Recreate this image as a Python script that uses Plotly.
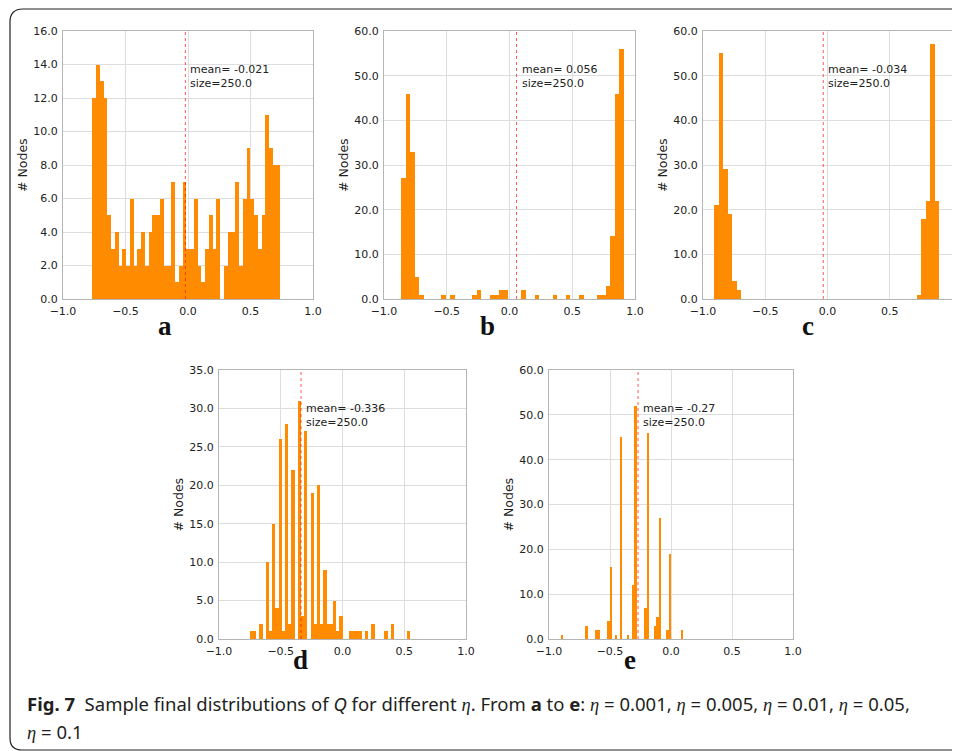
import plotly.graph_objects as go

# ---------------- data ----------------
N_BINS = 50
panel_labels = ["a", "b", "c", "d", "e"]

a_range = [-0.766, 0.739]
a_counts = [12, 14, 13, 12, 5, 3, 4, 2, 3, 2, 6, 2, 3, 4, 2, 4, 5, 5, 6, 2,
            2, 7, 1, 2, 7, 3, 3, 6, 2, 1, 3, 5, 3, 6, 0, 2, 4, 4, 7, 2,
            6, 9, 6, 5, 3, 5, 11, 9, 8, 8]
a_mean = -0.021

b_range = [-0.862, 0.910]
b_counts = [27, 46, 33, 5, 1, 0, 0, 0, 0, 1, 0, 1, 0, 0, 0, 0, 1, 2, 0, 0,
            1, 1, 2, 2, 0, 0, 0, 2, 0, 0, 1, 0, 0, 0, 1, 0, 0, 1, 0, 0,
            1, 0, 0, 0, 1, 1, 3, 14, 46, 56]
b_mean = 0.056

c_range = [-0.909, 0.898]
c_counts = [21, 55, 29, 19, 4, 2, 0, 0, 0, 0, 0, 0, 0, 0, 0, 0, 0, 0, 0, 0,
            0, 0, 0, 0, 0, 0, 0, 0, 0, 0, 0, 0, 0, 0, 0, 0, 0, 0, 0, 0,
            0, 0, 0, 0, 0, 1, 18, 22, 57, 22]
c_mean = -0.034

d_range = [-0.751, 0.546]
d_counts = [1, 1, 0, 2, 0, 10, 1, 15, 4, 26, 1, 28, 2, 22, 0, 31, 3, 27, 0, 19,
            2, 20, 2, 9, 2, 2, 5, 1, 3, 0, 0, 1, 1, 1, 1, 0, 1, 0, 2, 0,
            0, 0, 1, 0, 2, 0, 0, 0, 0, 1]
d_mean = -0.336

e_range = [-0.902, 0.101]
e_counts = [1, 0, 0, 0, 0, 0, 0, 0, 0, 0, 3, 0, 0, 0, 2, 2, 0, 0, 0, 4,
            16, 0, 1, 0, 45, 0, 0, 1, 0, 12, 52, 0, 0, 0, 7, 46, 0, 0, 3, 5,
            27, 0, 0, 2, 19, 0, 0, 0, 0, 2]
e_mean = -0.27

sizes = [250.0, 250.0, 250.0, 250.0, 250.0]
y_max = [16, 60, 60, 35, 60]
y_step = [2, 10, 10, 5, 10]
x_ticks = [-1.0, -0.5, 0.0, 0.5, 1.0]

ranges = [a_range, b_range, c_range, d_range, e_range]
counts = [a_counts, b_counts, c_counts, d_counts, e_counts]
means = [a_mean, b_mean, c_mean, d_mean, e_mean]

# ---------------- layout geometry (page pixels) ----------------
PAGE_W, PAGE_H = 960, 751
BODY = 8                       # default body margin of the html page
W, H = PAGE_W - BODY, PAGE_H - BODY


def fx(p):
    return (p - BODY) / W


def fy(p):
    return 1 - (p - BODY) / H


boxes = [(63, 313, 31, 299), (384, 635, 31, 299), (703, 952, 31, 299),
         (219, 466, 370, 639), (549, 793, 370, 639)]
letter_pos = [(165, 326), (487, 326), (808, 326), (300, 660), (630, 660)]

ORANGE = "#FF8C00"
TXT = "#222222"
TICKFONT = dict(family="DejaVu Sans", size=11, color=TXT)

fig = go.Figure()
layout = dict(width=W, height=H, margin=dict(l=0, r=0, t=0, b=0, autoexpand=False),
              paper_bgcolor="white", plot_bgcolor="white", showlegend=False,
              bargap=0, annotations=[], shapes=[])

for i in range(5):
    lo, hi = ranges[i]
    bw = (hi - lo) / N_BINS
    centers = [lo + bw * (k + 0.5) for k in range(N_BINS)]
    sfx = "" if i == 0 else str(i + 1)
    fig.add_trace(go.Bar(x=centers, y=counts[i], width=bw,
                         marker=dict(color=ORANGE, line=dict(width=0)),
                         xaxis="x" + sfx, yaxis="y" + sfx, hoverinfo="skip"))
    x0, x1, y0, y1 = boxes[i]
    layout["xaxis" + sfx] = dict(
        domain=[fx(x0), fx(x1)], anchor="y" + sfx, range=[-1, 1], automargin=False,
        tickvals=x_ticks, tickformat=".1f", showline=True, mirror=True,
        linecolor="#b5b5b5", linewidth=1, showgrid=True, gridcolor="#dedede",
        gridwidth=1, zeroline=False, ticks="outside", ticklen=2,
        tickcolor="rgba(0,0,0,0)", tickfont=TICKFONT)
    yt = list(range(0, y_max[i] + 1, y_step[i]))
    layout["yaxis" + sfx] = dict(
        domain=[fy(y1), fy(y0)], anchor="x" + sfx, automargin=False,
        range=[0, y_max[i]], tickvals=yt, tickformat=".1f", showline=True,
        mirror=True, linecolor="#b5b5b5", linewidth=1, showgrid=True,
        gridcolor="#dedede", gridwidth=1, zeroline=False, ticks="outside",
        ticklen=2, tickcolor="rgba(0,0,0,0)", tickfont=TICKFONT)
    # mean line
    layout["shapes"].append(dict(
        type="line", xref="x" + sfx, yref="y" + sfx + " domain",
        x0=means[i], x1=means[i], y0=0, y1=1,
        line=dict(color="rgba(255,0,0,0.65)", width=1, dash="dot"), layer="above"))
    # mean / size text (one two-line label)
    ph = y1 - y0
    layout["annotations"].append(dict(
        x=means[i], xref="x" + sfx, y=1 - 30 / ph, yref="y" + sfx + " domain",
        xanchor="left", yanchor="top", align="left", xshift=3, showarrow=False,
        text=f"mean= {means[i]}<br>size={sizes[i]}",
        font=dict(family="DejaVu Sans", size=11, color=TXT)))
    # y title
    ycen = (y0 + y1) / 2
    layout["annotations"].append(dict(
        x=fx(x0 - 41), y=fy(ycen), xref="paper", yref="paper",
        xanchor="center", yanchor="middle", textangle=-90, showarrow=False,
        text="# Nodes", font=dict(family="DejaVu Sans", size=12.5, color=TXT)))
    # panel letter
    lx, ly = letter_pos[i]
    layout["annotations"].append(dict(
        x=fx(lx), y=fy(ly), xref="paper", yref="paper", xanchor="center",
        yanchor="middle", showarrow=False, text=f"<b>{panel_labels[i]}</b>",
        font=dict(family="Liberation Serif", size=27, color="#111111")))

# caption
ETA = "<span style=\"font-family:'Liberation Serif'\"><i>η</i></span>"
cap1 = (f"<b>Fig. 7</b>  Sample final distributions of <i>Q</i> for different {ETA}. "
        f"From <b>a</b> to <b>e</b>: {ETA} = 0.001, {ETA} = 0.005, {ETA} = 0.01, {ETA} = 0.05,")
cap2 = f"{ETA} = 0.1"
CAPFONT = dict(family="Noto Sans", size=18.5, color="#231f20")
layout["annotations"].append(dict(x=fx(25), y=fy(703), xref="paper", yref="paper",
                                  xanchor="left", yanchor="middle", showarrow=False,
                                  text=cap1, font=CAPFONT))
layout["annotations"].append(dict(x=fx(25), y=fy(731), xref="paper", yref="paper",
                                  xanchor="left", yanchor="middle", showarrow=False,
                                  text=cap2, font=CAPFONT))

# rounded frame
def pt(x, y):
    return f"{fx(x):.5f},{fy(y):.5f}"

frame = (f"M {pt(960, 9)} L {pt(23, 9)} Q {pt(10, 9)} {pt(10, 22)} "
         f"L {pt(10, 738)} Q {pt(10, 750)} {pt(22, 750)} L {pt(960, 750)}")
layout["shapes"].append(dict(type="path", xref="paper", yref="paper", path=frame,
                             line=dict(color="#222222", width=1.2)))

fig.update_layout(**layout)
fig.write_html("out.html")
